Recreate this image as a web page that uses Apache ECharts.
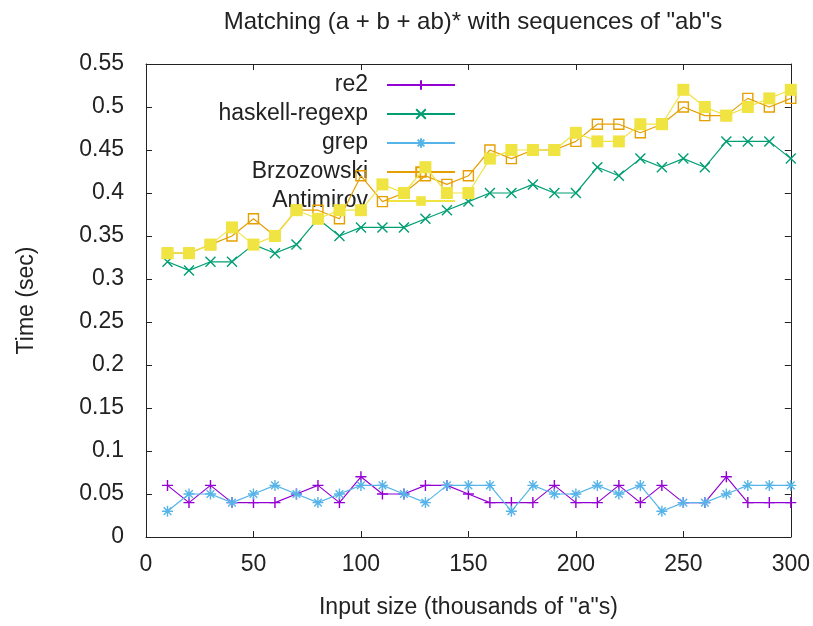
<!DOCTYPE html>
<html><head><meta charset="utf-8">
<script src="https://cdn.jsdelivr.net/npm/echarts@6/dist/echarts.min.js"></script>
<style>html,body{margin:0;padding:0;background:#fff}#c{width:813px;height:626px}</style>
</head><body><div id="c"></div>
<script>
const xs = [10,20,30,40,50,60,70,80,90,100,110,120,130,140,150,160,170,180,190,200,210,220,230,240,250,260,270,280,290,300];
const re2 = [0.06,0.04,0.06,0.04,0.04,0.04,0.05,0.06,0.04,0.07,0.05,0.05,0.06,0.06,0.05,0.04,0.04,0.04,0.06,0.04,0.04,0.06,0.04,0.06,0.04,0.04,0.07,0.04,0.04,0.04];
const haskellRegexp = [0.32,0.31,0.32,0.32,0.34,0.33,0.34,0.37,0.35,0.36,0.36,0.36,0.37,0.38,0.39,0.40,0.40,0.41,0.40,0.40,0.43,0.42,0.44,0.43,0.44,0.43,0.46,0.46,0.46,0.44];
const grep = [0.03,0.05,0.05,0.04,0.05,0.06,0.05,0.04,0.05,0.06,0.06,0.05,0.04,0.06,0.06,0.06,0.03,0.06,0.05,0.05,0.06,0.05,0.06,0.03,0.04,0.04,0.05,0.06,0.06,0.06];
const brzozowski = [0.33,0.33,0.34,0.35,0.37,0.35,0.38,0.38,0.37,0.42,0.39,0.40,0.42,0.41,0.42,0.45,0.44,0.45,0.45,0.46,0.48,0.48,0.47,0.48,0.50,0.49,0.49,0.51,0.50,0.51];
const antimirov = [0.33,0.33,0.34,0.36,0.34,0.35,0.38,0.37,0.38,0.38,0.41,0.40,0.43,0.40,0.40,0.44,0.45,0.45,0.45,0.47,0.46,0.46,0.48,0.48,0.52,0.50,0.49,0.50,0.51,0.52];
const seriesNames = ['re2','haskell-regexp','grep','Brzozowski','Antimirov'];
const xTicks = [0,50,100,150,200,250,300];
const yTicks = [0,0.05,0.1,0.15,0.2,0.25,0.3,0.35,0.4,0.45,0.5,0.55];

const FONT = 'Liberation Sans, Arial, sans-serif';
const colors = ['#9400d3','#009e73','#56b4e9','#e69f00','#f0e442'];
const values = [re2, haskellRegexp, grep, brzozowski, antimirov];
const symbols = [
  'path://M0,5L10,5M5,0L5,10',
  'path://M0,0L10,10M0,10L10,0',
  'path://M0,5L10,5M5,0L5,10M1.5,1.5L8.5,8.5M1.5,8.5L8.5,1.5',
  'rect','rect'
];
const symSizes = [11,10,11,10,12];

const chart = echarts.init(document.getElementById('c'), null, {renderer:'canvas'});
const series = seriesNames.map((n,i)=>({
  name:n, type:'line', data: xs.map((x,j)=>[x, values[i][j]]),
  symbol: symbols[i], symbolSize: symSizes[i], showAllSymbol:true,
  lineStyle:{color:colors[i], width:1.2},
  itemStyle:{
    color: (i===3) ? 'rgba(0,0,0,0)' : colors[i],
    borderColor: colors[i],
    borderWidth: (i===4) ? 0 : 1.4
  },
  emphasis:{disabled:true}, animation:false, z: 2+i
}));
const rowY = [85,114,143,172,201];
const legends = seriesNames.map((n,i)=>({
  data:[n], orient:'vertical', right:357, top: rowY[i]-12, align:'right',
  padding:0, itemWidth:68, itemHeight:12,
  textStyle:{fontFamily:FONT, fontSize:23, color:'#222', lineHeight:24, padding:[0,14,0,0]},
  selectedMode:false
}));
const axisCommon = {
  type:'value', axisLine:{show:true, onZero:false, lineStyle:{color:'#222', width:1}},
  axisTick:{show:true, inside:true, length:6, lineStyle:{color:'#222'}},
  splitLine:{show:false}
};
chart.setOption({
  animation:false,
  backgroundColor:'#fff',
  title:{text:'Matching (a + b + ab)* with sequences of "ab"s', left:468, textAlign:'center', top:5,
    textStyle:{fontFamily:FONT, fontSize:24, fontWeight:'normal', color:'#222'}},
  legend: legends,
  grid:{left:146, right:22, top:64, bottom:89, containLabel:false},
  xAxis:[
    Object.assign({}, axisCommon, {min:xTicks[0], max:xTicks[xTicks.length-1], interval:50, position:'bottom',
      name:'Input size (thousands of "a"s)', nameLocation:'middle', nameGap:59,
      nameTextStyle:{fontFamily:FONT, fontSize:23, color:'#222'},
      axisLabel:{fontFamily:FONT, fontSize:23, color:'#222', margin:16}}),
    Object.assign({}, axisCommon, {min:xTicks[0], max:xTicks[xTicks.length-1], interval:50, position:'top',
      axisLabel:{show:false}})
  ],
  yAxis:[
    Object.assign({}, axisCommon, {min:yTicks[0], max:yTicks[yTicks.length-1], interval:0.05, position:'left',
      name:'Time (sec)', nameLocation:'middle', nameGap:108, nameRotate:90,
      nameTextStyle:{fontFamily:FONT, fontSize:23, color:'#222'},
      axisLabel:{fontFamily:FONT, fontSize:23, color:'#222', margin:22,
        formatter:(v)=>String(Math.round(v*100)/100)}}),
    Object.assign({}, axisCommon, {min:yTicks[0], max:yTicks[yTicks.length-1], interval:0.05, position:'right',
      axisLabel:{show:false}})
  ],
  series: series
});
</script></body></html>
